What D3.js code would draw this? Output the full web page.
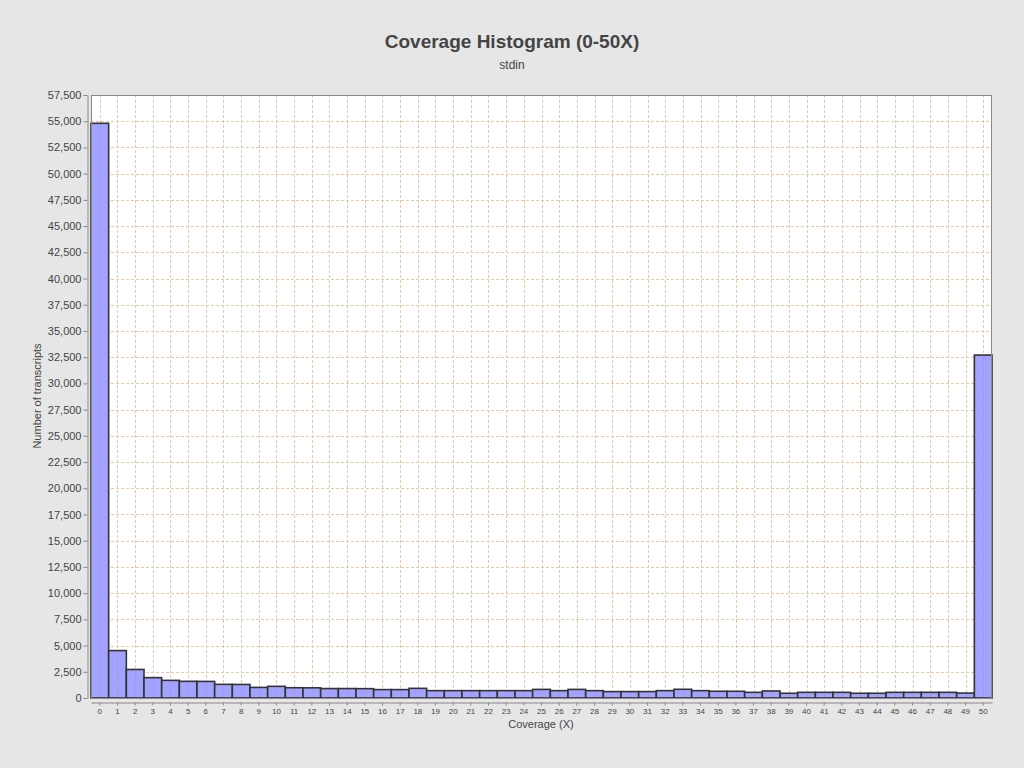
<!DOCTYPE html>
<html><head><meta charset="utf-8">
<script src="https://cdn.jsdelivr.net/npm/d3@7"></script>
<style>
html,body{margin:0;padding:0;background:#e6e6e6;}
svg{display:block;font-family:"Liberation Sans",Arial,sans-serif;}
</style></head>
<body><svg id="c" width="1024" height="768"></svg>
<script>
const categories = d3.range(0, 51).map(String);
const counts = [54800, 4520, 2720, 1940, 1680, 1590, 1580, 1300, 1290, 1010,
  1110, 980, 970, 900, 900, 890, 800, 800, 920, 700,
  700, 700, 700, 700, 700, 820, 700, 820, 700, 610,
  610, 610, 700, 830, 700, 640, 640, 540, 670, 450,
  540, 540, 540, 450, 450, 540, 540, 540, 540, 470,
  32700];
const yTicks = d3.range(0, 57501, 2500);
const title = "Coverage Histogram (0-50X)";
const subtitle = "stdin";
const xLabel = "Coverage (X)";
const yLabel = "Number of transcripts";

const svg = d3.select("#c");
const L = 91, R = 992, T = 95, B = 698;

const x = d3.scaleBand().domain(categories).range([L, R]).padding(0);
const y = d3.scaleLinear().domain([0, 57500]).range([B, T]);

svg.append("rect").attr("width", 1024).attr("height", 768).attr("fill", "#e6e6e6");
svg.append("rect").attr("x", L).attr("y", T).attr("width", R - L).attr("height", B - T).attr("fill", "#fff");

const gridColor = "#eec7a6";
// horizontal grid
svg.append("g").selectAll("line").data(yTicks.filter(d => d > 0)).join("line")
  .attr("x1", L).attr("x2", R)
  .attr("y1", d => Math.round(y(d)) + 0.5).attr("y2", d => Math.round(y(d)) + 0.5)
  .attr("stroke", gridColor).attr("stroke-width", 1).attr("stroke-dasharray", "3,2");
// vertical grid
svg.append("g").selectAll("line").data(categories).join("line")
  .attr("x1", d => Math.round(x(d) + x.bandwidth() / 2) + 0.5)
  .attr("x2", d => Math.round(x(d) + x.bandwidth() / 2) + 0.5)
  .attr("y1", T).attr("y2", B)
  .attr("stroke", gridColor).attr("stroke-width", 1).attr("stroke-dasharray", "3,2");

// bars
svg.append("g").selectAll("rect").data(counts).join("rect")
  .attr("x", (d, i) => x(categories[i]))
  .attr("y", d => y(d))
  .attr("width", x.bandwidth())
  .attr("height", d => B - y(d))
  .attr("fill", "#a3a3ff").attr("fill-opacity", 1)
  .attr("stroke", "#333").attr("stroke-width", 1.6);

// vertical grid lines also show through bars faintly
svg.append("g").selectAll("line").data(categories).join("line")
  .attr("x1", d => Math.round(x(d) + x.bandwidth() / 2) + 0.5)
  .attr("x2", d => Math.round(x(d) + x.bandwidth() / 2) + 0.5)
  .attr("y1", (d, i) => y(counts[i]) + 2).attr("y2", B - 1)
  .attr("stroke", "#9a8ad0").attr("stroke-width", 1).attr("stroke-dasharray", "3,2").attr("opacity", 0.5);

// plot border
svg.append("rect").attr("x", L + 0.5).attr("y", T + 0.5).attr("width", R - L - 1).attr("height", B - T)
  .attr("fill", "none").attr("stroke", "#888").attr("stroke-width", 1);

// y axis
const yAxis = svg.append("g").attr("transform", "translate(87.5,0)")
  .call(d3.axisLeft(y).tickValues(yTicks).tickFormat(d3.format(",")).tickSize(4).tickSizeOuter(0));
yAxis.select(".domain").attr("stroke", "#888");
yAxis.selectAll(".tick line").attr("stroke", "#888");
yAxis.selectAll("text").attr("fill", "#444").style("font-size", "11px").attr("x", -6);

// x axis
const xAxis = svg.append("g").attr("transform", "translate(0,702.5)")
  .call(d3.axisBottom(x).tickSize(3).tickSizeOuter(0));
xAxis.select(".domain").attr("stroke", "#888");
xAxis.selectAll(".tick line").attr("stroke", "#888");
xAxis.selectAll("text").attr("fill", "#444").style("font-size", "8px").attr("y", 6);

// labels
svg.append("text").attr("x", 541).attr("y", 728).attr("text-anchor", "middle")
  .style("font-size", "11px").attr("fill", "#444").text(xLabel);
svg.append("text").attr("transform", "translate(41,396) rotate(-90)").attr("text-anchor", "middle")
  .style("font-size", "11px").attr("fill", "#444").text(yLabel);
svg.append("text").attr("x", 512).attr("y", 48).attr("text-anchor", "middle")
  .style("font-size", "19px").style("font-weight", "bold").attr("fill", "#444").text(title);
svg.append("text").attr("x", 512).attr("y", 69).attr("text-anchor", "middle")
  .style("font-size", "12px").attr("fill", "#444").text(subtitle);
</script></body></html>
